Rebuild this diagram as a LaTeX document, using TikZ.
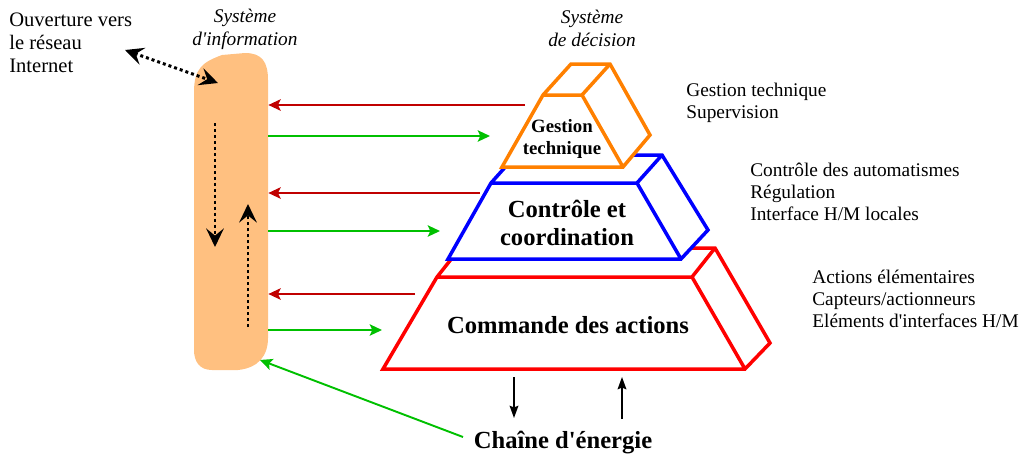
\documentclass[tikz,border=0pt]{standalone}
\usepackage{fontspec}
\setmainfont{Liberation Serif}
\usetikzlibrary{arrows.meta}
\definecolor{peach}{RGB}{255,192,128}
\definecolor{dred}{RGB}{192,0,0}
\definecolor{dgreen}{RGB}{0,192,0}
\definecolor{lorange}{RGB}{255,128,0}
\definecolor{pblue}{RGB}{0,0,255}
\definecolor{pred}{RGB}{255,0,0}
\newcommand{\aq}{\textquotesingle}
\begin{document}
\begin{tikzpicture}[x=0.02cm,y=-0.02cm,
  lbl/.style={font=\fontsize{11}{12.4}\selectfont, align=left, anchor=north west, inner sep=0pt},
  ital/.style={font=\fontsize{11}{13}\selectfont\itshape, align=center, anchor=north, inner sep=0pt},
  bigb/.style={font=\fontsize{14}{15.5}\selectfont\bfseries, align=center, inner sep=0pt},
  smallb/.style={font=\fontsize{10.7}{12.5}\selectfont\bfseries, align=center, inner sep=0pt},
  redarr/.style={draw=dred, line width=1.1pt, -{Stealth[length=7pt,width=6.5pt,inset=1.5pt]}},
  grnarr/.style={draw=dgreen, line width=1.1pt, -{Stealth[length=7pt,width=6.5pt,inset=1.5pt]}},
  dotarr/.style={line width=1.7pt, dash pattern=on 1.7pt off 1.7pt, -{Stealth[length=10.5pt,width=10pt,inset=4pt]}},
  blkarr/.style={line width=0.9pt, -{Stealth[length=7pt,width=5pt,inset=1pt]}},
  levelbox/.style={line width=2pt, line join=miter}
]
\useasboundingbox (0,0) rectangle (1022,461);

% information system column
\fill[peach] (194,92) .. controls (194,68) and (203,62) .. (222,55) -- (245,53)
  .. controls (262,53) and (268,62) .. (268,80) -- (268,338)
  .. controls (268,356) and (258,368) .. (238,370) -- (212,370)
  .. controls (200,370) and (194,362) .. (194,350) -- cycle;
\node[minimum width=74*0.02cm, minimum height=317*0.02cm, inner sep=0pt] (si) at (231,211.5) {};

% labels
\node[lbl, font=\fontsize{11.7}{12.9}\selectfont] (ouv) at (9,13) {Ouverture vers\\le réseau\\Internet};
\node[ital] (tsi) at (245,9) {Système\\d\aq information};
\node[ital] (tsd) at (592,10) {Système\\de décision};
\node[lbl] (dgt) at (686,83) {Gestion technique\\Supervision};
\node[lbl] (dcc) at (750,163) {Contrôle des automatismes\\Régulation\\Interface H/M locales};
\node[lbl] (dca) at (812,270) {Actions élémentaires\\Capteurs/actionneurs\\Eléments d\aq interfaces H/M};

% red level
\fill[white] (383,369) -- (745,369) -- (770,343) -- (715,248) -- (460,248) -- (437,277) -- cycle;
\draw[levelbox, draw=pred] (383,369) -- (745,369) -- (770,343) -- (715,248) -- (460,248) -- (437,277) -- cycle
  (437,277) -- (692,277) -- (715,248) (692,277) -- (745,369);
% blue level
\fill[white] (448,259) -- (681,259) -- (708,230) -- (662,155) -- (516,155) -- (491,183) -- cycle;
\draw[levelbox, draw=pblue] (448,259) -- (681,259) -- (708,230) -- (662,155) -- (516,155) -- (491,183) -- cycle
  (491,183) -- (637,183) -- (662,155) (637,183) -- (681,259);
% orange level
\fill[white] (502,167) -- (623,167) -- (650,135) -- (610,64) -- (571,64) -- (543,95) -- cycle;
\draw[levelbox, draw=lorange] (502,167) -- (623,167) -- (650,135) -- (610,64) -- (571,64) -- (543,95) -- cycle
  (543,95) -- (582,95) -- (610,64) (582,95) -- (623,167);

\node[smallb] (gt) at (562,139) {Gestion\\technique};
\node[bigb] (cc) at (567,223) {Contrôle et\\coordination};
\node[bigb] (ca) at (568,325) {Commande des actions};
\node[bigb] (ce) at (563,443) {Chaîne d\aq énergie};

% arrows between column and levels
\coordinate (r1) at (525,105);
\coordinate (g1) at (490,136);
\coordinate (r2) at (480,193);
\coordinate (g2) at (440,231);
\coordinate (r3) at (415,294);
\coordinate (g3) at (382,330);
\draw[redarr] (r1) -- (r1 -| si.east);
\draw[grnarr] (g1 -| si.east) -- (g1);
\draw[redarr] (r2) -- (r2 -| si.east);
\draw[grnarr] (g2 -| si.east) -- (g2);
\draw[redarr] (r3) -- (r3 -| si.east);
\draw[grnarr] (g3 -| si.east) -- (g3);

% energy chain
\coordinate (ceg) at (463,437);
\coordinate (sib) at (260,360);
\draw[grnarr] (ceg) -- (sib);
\coordinate (d1) at (514,377);
\coordinate (d2) at (514,418);
\coordinate (u1) at (622,419);
\coordinate (u2) at (622,377);
\draw[blkarr] (d1) -- (d2);
\draw[blkarr] (u1) -- (u2);

% dotted arrows
\coordinate (in1) at (125,50);
\coordinate (in2) at (218,83);
\draw[dotarr, {Stealth[length=10.5pt,width=10pt,inset=4pt]}-{Stealth[length=10.5pt,width=10pt,inset=4pt]}] (in1) -- (in2);
\coordinate (dn1) at (215,123);
\coordinate (dn2) at (215,247);
\draw[dotarr] (dn1) -- (dn2);
\coordinate (up1) at (248,327);
\coordinate (up2) at (248,204);
\draw[dotarr] (up1) -- (up2);
\end{tikzpicture}
\end{document}
